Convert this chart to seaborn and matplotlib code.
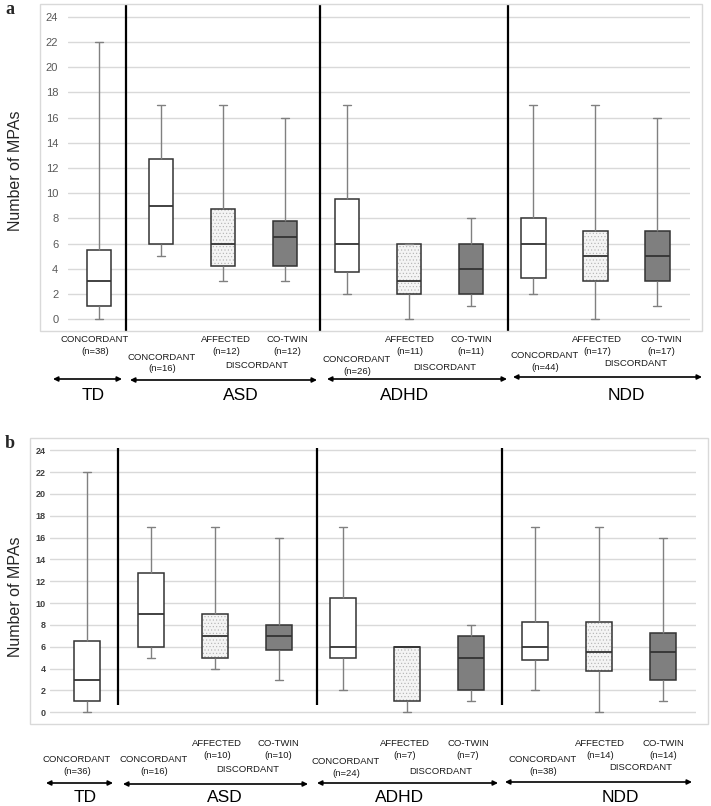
import numpy as np
import pandas as pd
import matplotlib.pyplot as plt
import matplotlib.colors as mcolors
from matplotlib.patches import Rectangle, FancyArrowPatch
import seaborn as sns

sns.set_style('white')
plt.rcParams['font.family'] = ['Liberation Sans', 'DejaVu Sans']
plt.rcParams['hatch.linewidth'] = 0.4

# Boxes, left to right
box_ids = ['TD_C', 'ASD_C', 'ASD_A', 'ASD_T', 'ADHD_C', 'ADHD_A', 'ADHD_T', 'NDD_C', 'NDD_A', 'NDD_T']
box_kind = ['CONCORDANT', 'CONCORDANT', 'AFFECTED', 'CO-TWIN', 'CONCORDANT', 'AFFECTED', 'CO-TWIN',
            'CONCORDANT', 'AFFECTED', 'CO-TWIN']
groups = ['TD', 'ASD', 'ADHD', 'NDD']

# Panel a: five-number summaries (min, Q1, median, Q3, max)
a_low = [0, 5, 3, 3, 2, 0, 1, 2, 0, 1]
a_q1 = [1, 6, 4.25, 4.25, 3.75, 2, 2, 3.25, 3, 3]
a_med = [3, 9, 6, 6.5, 6, 3, 4, 6, 5, 5]
a_q3 = [5.5, 12.75, 8.75, 7.75, 9.5, 6, 6, 8, 7, 7]
a_high = [22, 17, 17, 16, 17, 6, 8, 17, 17, 16]
a_n = [38, 16, 12, 12, 26, 11, 11, 44, 17, 17]

# Panel b
b_low = [0, 5, 4, 3, 2, 0, 1, 2, 0, 1]
b_q1 = [1, 6, 5, 5.75, 5, 1, 2, 4.75, 3.75, 3]
b_med = [3, 9, 7, 7, 6, 6, 5, 6, 5.5, 5.5]
b_q3 = [6.5, 12.75, 9, 8, 10.5, 6, 7, 8.25, 8.25, 7.25]
b_high = [22, 17, 17, 16, 17, 6, 8, 17, 17, 16]
b_n = [36, 16, 10, 10, 24, 7, 7, 38, 14, 14]

palette = {'CONCORDANT': '#ffffff', 'AFFECTED': '#f4f4f4', 'CO-TWIN': '#7f7f7f'}
whisker_grey = '#808080'

W, H = 711, 806
fig = plt.figure(figsize=(W / 100, H / 100), dpi=100)


def px_axes(x0, x1, y0, y1):
    return fig.add_axes([x0 / W, 1 - y1 / H, (x1 - x0) / W, (y1 - y0) / H])


def draw_boxes(ax, low, q1, med, q3, high):
    # 5 points per box: with whis=(0,100) the box and whiskers land exactly on them
    vals = np.column_stack([low, q1, med, q3, high]).ravel()
    df = pd.DataFrame({'box': np.repeat(box_ids, 5), 'kind': np.repeat(box_kind, 5), 'value': vals})
    sns.boxplot(data=df, x='box', y='value', hue='kind', order=box_ids,
                hue_order=['CONCORDANT', 'AFFECTED', 'CO-TWIN'], palette=palette,
                dodge=False, width=0.4, whis=(0, 100), fliersize=0, linecolor='#333333',
                linewidth=1.1, legend=False, ax=ax,
                whiskerprops={'color': whisker_grey, 'linewidth': 1},
                capprops={'color': whisker_grey, 'linewidth': 1},
                medianprops={'color': '#333333', 'linewidth': 1.3})
    aff = mcolors.to_rgba(palette['AFFECTED'])
    for p in ax.patches:
        if np.allclose(p.get_facecolor(), aff):
            p.set_hatch('.....')
            p._hatch_color = mcolors.to_rgba('#b0b0b0')
    # shorter caps, like the original
    grey = mcolors.to_rgba(whisker_grey)
    for ln in ax.lines:
        x = np.asarray(ln.get_xdata(), dtype=float)
        y = np.asarray(ln.get_ydata(), dtype=float)
        if len(x) == 2 and x[0] != x[1] and y[0] == y[1] and np.allclose(mcolors.to_rgba(ln.get_color()), grey):
            c, hw = x.mean(), (x[1] - x[0]) / 2 * 0.65
            ln.set_xdata([c - hw, c + hw])
    ax.set_xlabel('')
    ax.set_ylabel('')
    ax.set_xticks([])
    ax.set_yticks(range(0, 25, 2))
    ax.yaxis.grid(True, color='#d9d9d9', linewidth=1)
    ax.set_axisbelow(True)
    sns.despine(ax=ax, left=True, bottom=True)
    ax.tick_params(axis='y', length=0)


def frame(x0, x1, y0, y1):
    fig.patches.append(Rectangle((x0 / W, 1 - y1 / H), (x1 - x0) / W, (y1 - y0) / H,
                                 transform=fig.transFigure, fill=False,
                                 edgecolor='#d9d9d9', linewidth=1))


def ptext(x, y, s, **kw):
    fig.text(x / W, 1 - y / H, s, ha='center', va='center', **kw)


def arrow(x0, x1, y):
    fig.add_artist(FancyArrowPatch(
        (x0 / W, 1 - y / H), (x1 / W, 1 - y / H), transform=fig.transFigure,
        arrowstyle='<|-|>', mutation_scale=7, color='black', linewidth=1.2,
        shrinkA=0, shrinkB=0))


small = dict(fontsize=6.8, color='#1a1a1a')
big = dict(fontsize=12.5, color='black')

# ---------------- panel a ----------------
frame(40, 702, 4, 331)
ax_a = px_axes(68, 690, 4, 331)
draw_boxes(ax_a, a_low, a_q1, a_med, a_q3, a_high)
ax_a.set_xlim(-0.5, 9.53)
ax_a.set_ylim(-0.95, 25.03)
for s in [0.435, 3.565, 6.597]:
    ax_a.axvline(s, color='black', linewidth=1.6)
ax_a.tick_params(axis='y', labelsize=8, labelcolor='#595959', pad=7)
ptext(16, 171, 'Number of MPAs', rotation=90, fontsize=11.5, color='#262626')
ptext(10, 9, 'a', fontsize=13, fontweight='bold', family='Liberation Serif')

# label layout (pixel positions)
a_lab_x = [95, 162, 226, 287, 357, 410, 471, 545, 597, 661]
a_lab_y = [340, 357, 340, 340, 360, 340, 340, 356, 340, 340]
for i, k in enumerate(box_kind):
    ptext(a_lab_x[i], a_lab_y[i], k, **small)
    ptext(a_lab_x[i], a_lab_y[i] + 12, f'(n={a_n[i]})', **small)
for x, y in zip([257, 445, 636], [365, 367, 363]):
    ptext(x, y, 'DISCORDANT', **small)
for (x0, x1), y in zip([(53, 122), (130, 317), (327, 507), (513, 702)], [379, 380, 379, 377]):
    arrow(x0, x1, y)
for g, x in zip(groups, [93, 241, 405, 626]):
    ptext(x, 395, g, **big)

# ---------------- panel b ----------------
frame(30, 708, 438, 724)
ax_b = px_axes(50, 696, 438, 724)
draw_boxes(ax_b, b_low, b_q1, b_med, b_q3, b_high)
ax_b.set_xlim(-0.58, 9.52)
ax_b.set_ylim(-1.07, 25.13)
ax_b.vlines([0.484, 3.594, 6.484], 0.67, 24.21, color='black', linewidth=1.6)
ax_b.tick_params(axis='y', labelsize=6.5, labelcolor='#404040', pad=3)
for t in ax_b.get_yticklabels():
    t.set_fontweight('bold')
ptext(16, 597, 'Number of MPAs', rotation=90, fontsize=11.5, color='#262626')
ptext(10, 444, 'b', fontsize=13, fontweight='bold', family='Liberation Serif')

b_lab_x = [77, 154, 217, 278, 346, 405, 468, 543, 600, 663]
b_lab_y = [760, 760, 744, 744, 762, 744, 744, 760, 744, 744]
for i, k in enumerate(box_kind):
    ptext(b_lab_x[i], b_lab_y[i], k, **small)
    ptext(b_lab_x[i], b_lab_y[i] + 12, f'(n={b_n[i]})', **small)
for x, y in zip([248, 441, 641], [769, 772, 767]):
    ptext(x, y, 'DISCORDANT', **small)
for (x0, x1), y in zip([(46, 113), (123, 308), (317, 498), (505, 692)], [783, 784, 783, 782]):
    arrow(x0, x1, y)
for g, x in zip(groups, [85, 225, 400, 620]):
    ptext(x, 798, g, **big)

fig.savefig('out.png', dpi=100)
